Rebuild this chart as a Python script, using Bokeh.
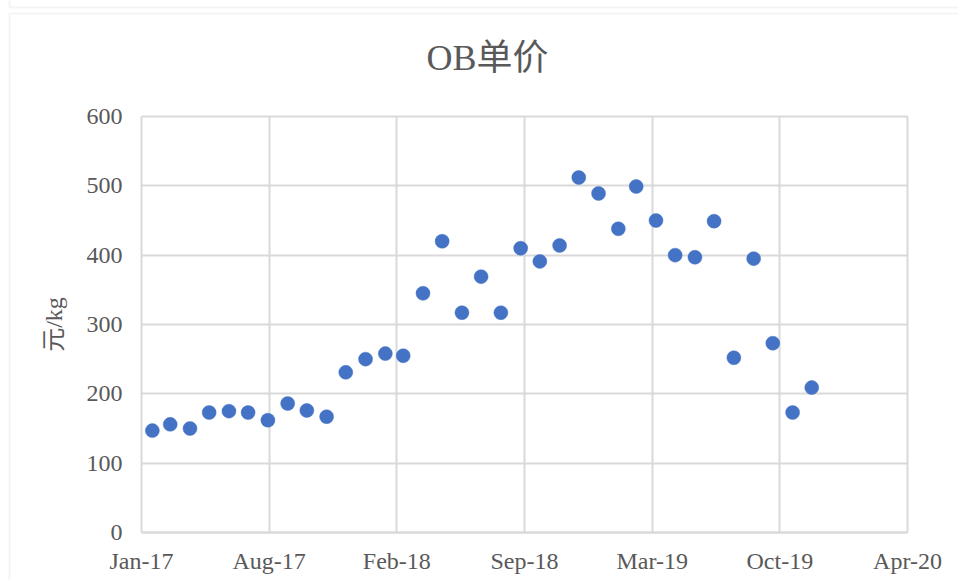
import pandas as pd
from bokeh.plotting import figure
from bokeh.models import (ColumnDataSource, Range1d, FixedTicker, DatetimeTickFormatter,
                          BoxAnnotation)
from bokeh.core.properties import value
from bokeh.embed import file_html
from bokeh.resources import INLINE

# ---------------- data ----------------
months = ["2017-02-01", "2017-03-01", "2017-04-01", "2017-05-01", "2017-06-01", "2017-07-01",
          "2017-08-01", "2017-09-01", "2017-10-01", "2017-11-01", "2017-12-01", "2018-01-01",
          "2018-02-01", "2018-03-01", "2018-04-01", "2018-05-01", "2018-06-01", "2018-07-01",
          "2018-08-01", "2018-09-01", "2018-10-01", "2018-11-01", "2018-12-01", "2019-01-01",
          "2019-02-01", "2019-03-01", "2019-04-01", "2019-05-01", "2019-06-01", "2019-07-01",
          "2019-08-01", "2019-09-01", "2019-10-01", "2019-11-01", "2019-12-01"]
prices = [147, 156, 150, 173, 175, 173, 162, 186, 176, 167, 231, 250,
          258, 255, 345, 420, 317, 369, 317, 410, 391, 414, 512, 489,
          438, 499, 450, 400, 397, 449, 252, 395, 273, 173, 209]

x_tick_dates = ["2017-01-15", "2017-08-03", "2018-02-19", "2018-09-07",
                "2019-03-26", "2019-10-12", "2020-04-29"]
y_ticks = [0, 100, 200, 300, 400, 500, 600]

title_text = "OB单价"
y_label = "元/kg"

# ---------------- styling / layout (pixels inside the canvas) ----------------
GRID = "#d9d9d9"
TEXT = "#595959"
BLUE = "#4472C4"
SERIF = "Liberation Serif, Noto Sans CJK SC"

W, H = 958, 580
PL, PR, PT, PB = 141, 907, 116, 532          # plot-area box
PW, PH = PR - PL, PB - PT
TITLE_X, TITLE_Y = 487, 57                    # title centre, pixels from top-left

src = ColumnDataSource(dict(x=pd.to_datetime(months), y=prices))
tick_ms = [pd.Timestamp(d).value / 1e6 for d in x_tick_dates]

kx = (tick_ms[-1] - tick_ms[0]) / PW
ky = (y_ticks[-1] - y_ticks[0]) / PH
x0 = tick_ms[0] - PL * kx
y1 = y_ticks[-1] + PT * ky
x_range = Range1d(x0, tick_ms[-1] + (W - PR) * kx)
y_range = Range1d(y_ticks[0] - (H - PB) * ky, y1)

p = figure(width=W, height=H, output_backend="svg", toolbar_location=None,
           x_axis_type="datetime", x_range=x_range, y_range=y_range,
           min_border=0, background_fill_color="white", border_fill_color="white")
p.title.visible = False
p.outline_line_color = None
p.xgrid.visible = False
p.ygrid.visible = False

xa, ya = p.xaxis[0], p.yaxis[0]
xa.ticker = FixedTicker(ticks=tick_ms)
fmt = "%b-%y"
xa.formatter = DatetimeTickFormatter(
    microseconds=fmt, milliseconds=fmt, seconds=fmt, minsec=fmt, minutes=fmt,
    hourmin=fmt, hours=fmt, days=fmt, months=fmt, years=fmt)
ya.ticker = FixedTicker(ticks=y_ticks)

xa.fixed_location = y_ticks[0]
ya.fixed_location = tick_ms[0]
xa.bounds = (tick_ms[0], tick_ms[-1])
ya.bounds = (y_ticks[0], y_ticks[-1])

for ax in (xa, ya):
    ax.level = "underlay"
    ax.minor_tick_line_color = None
    ax.major_tick_out = 0
    ax.major_tick_line_color = GRID
    ax.major_tick_line_width = 2
    ax.major_label_text_font = SERIF
    ax.major_label_text_font_size = "24px"
    ax.major_label_text_color = TEXT
# major ticks drawn inward across the plot area act as the grid lines
xa.major_tick_in = PH
ya.major_tick_in = PW
xa.axis_line_color = GRID
xa.axis_line_width = 2
ya.axis_line_color = None
xa.major_label_standoff = 15
ya.major_label_standoff = 19

ya.axis_label = y_label
ya.axis_label_text_font = SERIF
ya.axis_label_text_font_size = "24px"
ya.axis_label_text_font_style = "normal"
ya.axis_label_text_color = TEXT
ya.axis_label_standoff = 17

p.scatter("x", "y", source=src, size=14, fill_color=BLUE, line_color=BLUE, line_width=0.5)

# chart title, positioned through the plot's scales
p.text(x=[x0 + TITLE_X * kx], y=[y1 - TITLE_Y * ky], text=[title_text],
       text_font=value(SERIF), text_font_size="36px", text_color=TEXT,
       text_align="center", text_baseline="middle")

# chart-box border (left and top edges visible) and the bottom edge of the box above it
p.add_layout(BoxAnnotation(left=9, right=W + 40, top=H - 13, bottom=-40,
                           left_units="screen", right_units="screen",
                           top_units="screen", bottom_units="screen",
                           fill_color=None, line_color=GRID, line_width=2, level="underlay"))
p.add_layout(BoxAnnotation(left=9, right=W + 40, top=H + 40, bottom=H - 7,
                           left_units="screen", right_units="screen",
                           top_units="screen", bottom_units="screen",
                           fill_color=None, line_color=GRID, line_width=2, level="underlay"))

open("out.html", "w").write(file_html(p, INLINE))
